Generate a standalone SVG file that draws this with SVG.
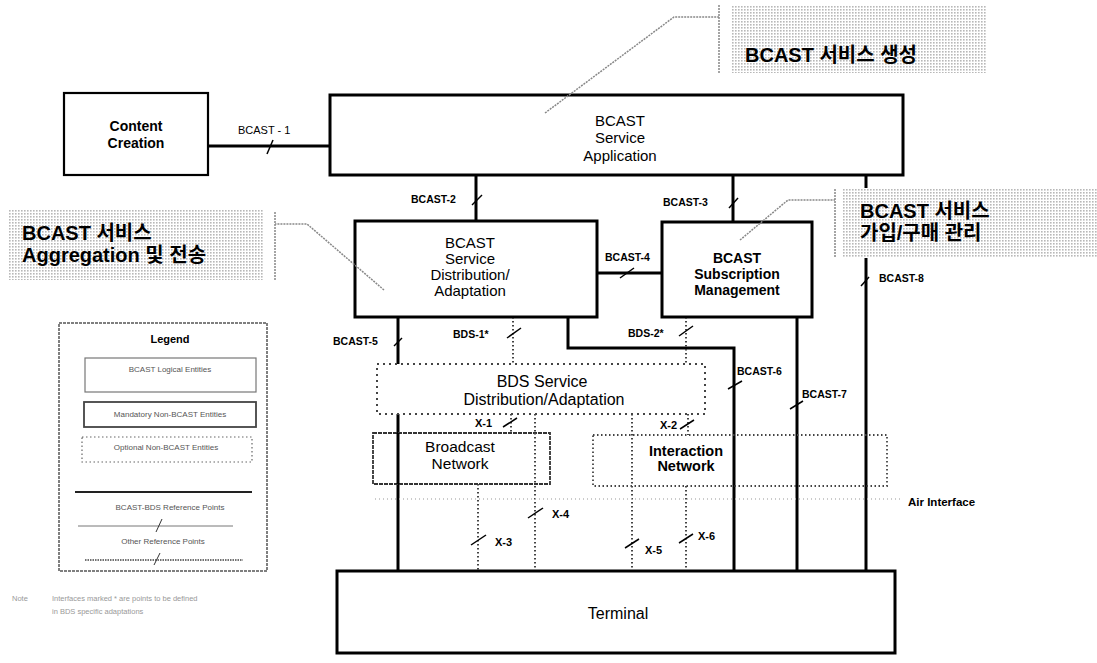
<svg xmlns="http://www.w3.org/2000/svg" width="1097" height="663" viewBox="0 0 1097 663">
<defs>
<pattern id="dots" width="3" height="3" patternUnits="userSpaceOnUse"><rect width="3" height="3" fill="#fff"/><rect width="1.6" height="1.6" fill="#b8b8b8"/></pattern>
<style>
text{font-family:"Liberation Sans",Arial,"Noto Sans CJK KR",sans-serif;fill:#000}
.box{fill:#fff;stroke:#000;stroke-width:3}
.thin{fill:#fff;stroke:#000;stroke-width:2.2}
.ln{fill:none;stroke:#000;stroke-width:3}
.dot{fill:none;stroke:#444;stroke-width:2;stroke-dasharray:1.5 2.5}
.dbox{fill:#fff;stroke:#444;stroke-width:2;stroke-dasharray:2 4}
.tick{stroke:#000;stroke-width:1.5}
.lead{fill:none;stroke:#888;stroke-width:1.5;stroke-dasharray:2 1}
.lbl{font-size:10.5px;font-weight:bold}
.xl{font-size:11px;font-weight:bold}
.nd{font-size:15px;text-anchor:middle}
.ndb{font-size:14px;font-weight:bold;text-anchor:middle}
.co{font-size:20px;font-weight:bold;font-family:"Liberation Sans","Noto Sans CJK KR",sans-serif}
.lg{font-size:8px;fill:#555;text-anchor:middle}
.note{font-size:7.5px;fill:#999}
</style>
</defs>
<rect width="1097" height="663" fill="#fff"/>

<g id="connectors">
<line class="ln" x1="208" y1="146" x2="330" y2="146"/>
<line class="ln" x1="476" y1="175" x2="476" y2="222"/>
<line class="ln" x1="733" y1="175" x2="733" y2="222"/>
<line class="ln" x1="597" y1="273" x2="662" y2="273"/>
<line class="ln" x1="866" y1="175" x2="866" y2="571"/>
<line class="ln" x1="398" y1="317" x2="398" y2="571"/>
<polyline class="ln" points="568,317 568,348 734,348 734,571"/>
<line class="ln" x1="797" y1="317" x2="797" y2="571"/>
<line class="dot" x1="513" y1="317" x2="513" y2="364"/>
<line class="dot" x1="686" y1="317" x2="686" y2="364"/>
<line class="dot" x1="511" y1="414" x2="511" y2="434"/>
<line class="dot" x1="688" y1="414" x2="688" y2="435"/>
<line class="dot" x1="535" y1="414" x2="535" y2="571"/>
<line class="dot" x1="478" y1="484" x2="478" y2="571"/>
<line class="dot" x1="632" y1="414" x2="632" y2="571"/>
<line class="dot" x1="686" y1="486" x2="686" y2="571"/>
<line x1="375" y1="499" x2="900" y2="499" stroke="#bbb" stroke-width="1.5" stroke-dasharray="1 3"/>
<line class="tick" x1="267" y1="154" x2="273" y2="140"/>
<line class="tick" x1="472" y1="205" x2="482" y2="195"/>
<line class="tick" x1="729" y1="208" x2="738" y2="198"/>
<line class="tick" x1="620" y1="278" x2="634" y2="268"/>
<line class="tick" x1="394" y1="346" x2="402" y2="338"/>
<line class="tick" x1="507" y1="338" x2="521" y2="328"/>
<line class="tick" x1="679" y1="336" x2="693" y2="326"/>
<line class="tick" x1="728" y1="389" x2="742" y2="381"/>
<line class="tick" x1="790" y1="409" x2="803" y2="401"/>
<line class="tick" x1="861" y1="286" x2="869" y2="277"/>
<line class="tick" x1="503" y1="427" x2="517" y2="418"/>
<line class="tick" x1="680" y1="429" x2="694" y2="420"/>
<line class="tick" x1="471" y1="545" x2="486" y2="535"/>
<line class="tick" x1="528" y1="518" x2="543" y2="508"/>
<line class="tick" x1="625" y1="548" x2="639" y2="539"/>
<line class="tick" x1="679" y1="543" x2="693" y2="534"/>
<text x="238" y="134" style="font-size:11px">BCAST - 1</text>
<text class="lbl" x="411" y="203">BCAST-2</text>
<text class="lbl" x="663" y="206">BCAST-3</text>
<text class="lbl" x="605" y="261">BCAST-4</text>
<text class="lbl" x="333" y="345">BCAST-5</text>
<text class="lbl" x="453" y="338">BDS-1*</text>
<text class="lbl" x="628" y="337">BDS-2*</text>
<text class="lbl" x="737" y="375">BCAST-6</text>
<text class="lbl" x="802" y="398">BCAST-7</text>
<text class="lbl" x="879" y="282">BCAST-8</text>
<text class="xl" x="475" y="427">X-1</text>
<text class="xl" x="660" y="429">X-2</text>
<text class="xl" x="495" y="546">X-3</text>
<text class="xl" x="552" y="518">X-4</text>
<text class="xl" x="645" y="554">X-5</text>
<text class="xl" x="698" y="540">X-6</text>
<text x="908" y="506" style="font-size:11.5px;font-weight:bold">Air Interface</text>
</g>

<g id="content-creation">
<rect class="thin" x="64" y="93" width="144" height="82"/>
<text class="ndb" x="136" y="131">Content</text>
<text class="ndb" x="136" y="148">Creation</text>
</g>

<g id="service-application">
<rect class="box" x="330" y="95" width="573" height="80"/>
<text class="nd" x="620" y="126">BCAST</text>
<text class="nd" x="620" y="143">Service</text>
<text class="nd" x="620" y="161">Application</text>
</g>

<g id="service-distribution">
<rect class="box" x="355" y="221" width="242" height="96"/>
<text class="nd" x="470" y="248">BCAST</text>
<text class="nd" x="470" y="264">Service</text>
<text class="nd" x="470" y="280">Distribution/</text>
<text class="nd" x="470" y="296">Adaptation</text>
</g>

<g id="subscription-management">
<rect class="box" x="662" y="222" width="150" height="95"/>
<text class="ndb" x="737" y="263">BCAST</text>
<text class="ndb" x="737" y="279">Subscription</text>
<text class="ndb" x="737" y="295">Management</text>
</g>

<g id="bds-service">
<rect class="dbox" x="377" y="364" width="328" height="50"/>
<text x="542" y="387" style="font-size:16px;text-anchor:middle">BDS Service</text>
<text x="544" y="405" style="font-size:16px;text-anchor:middle">Distribution/Adaptation</text>
</g>

<g id="broadcast-network">
<rect x="373" y="433" width="177" height="51" fill="#fff" stroke="#333" stroke-width="1.8" stroke-dasharray="4 1"/>
<line class="ln" x1="398" y1="433" x2="398" y2="484"/>
<line class="dot" x1="535" y1="433" x2="535" y2="484"/>
<text x="460" y="452" style="font-size:15.5px;text-anchor:middle">Broadcast</text>
<text x="460" y="469" style="font-size:15.5px;text-anchor:middle">Network</text>
</g>

<g id="interaction-network">
<rect x="593" y="435" width="294" height="51" fill="none" stroke="#444" stroke-width="1.8" stroke-dasharray="1.5 2.5"/>
<text x="686" y="456" style="font-size:14.5px;font-weight:bold;text-anchor:middle">Interaction</text>
<text x="686" y="471" style="font-size:14.5px;font-weight:bold;text-anchor:middle">Network</text>
</g>

<g id="terminal">
<rect class="box" x="337" y="571" width="558" height="82"/>
<text x="618" y="619" style="font-size:16px;text-anchor:middle">Terminal</text>
</g>

<g id="callout-creation">
<rect x="731" y="5" width="256" height="68" fill="url(#dots)"/>
<polyline class="lead" points="545,113 674,17 719,17"/>
<line class="lead" x1="719" y1="5" x2="719" y2="73"/>
<text class="co" x="745" y="62">BCAST 서비스 생성</text>
</g>

<g id="callout-subscription">
<rect x="843" y="188" width="254" height="70" fill="url(#dots)"/>
<polyline class="lead" points="740,240 788,200 835,200"/>
<line class="lead" x1="835" y1="189" x2="835" y2="258"/>
<text class="co" x="860" y="218">BCAST 서비스</text>
<text class="co" x="860" y="240">가입/구매 관리</text>
</g>

<g id="callout-aggregation">
<rect x="8" y="210" width="255" height="70" fill="url(#dots)"/>
<polyline class="lead" points="384,290 307,224 275,224"/>
<line class="lead" x1="275" y1="212" x2="275" y2="280"/>
<text class="co" x="22" y="240">BCAST 서비스</text>
<text class="co" x="22" y="262">Aggregation 및 전송</text>
</g>

<g id="legend">
<rect x="59" y="323" width="208" height="248" fill="#fff" stroke="#555" stroke-width="1.5" stroke-dasharray="3 1"/>
<text x="170" y="343" style="font-size:11px;font-weight:bold;text-anchor:middle">Legend</text>
<rect x="85" y="358" width="171" height="34" fill="none" stroke="#777" stroke-width="1.2"/>
<text class="lg" x="170" y="372">BCAST Logical Entities</text>
<rect x="84" y="402" width="172" height="25" fill="none" stroke="#444" stroke-width="1.8"/>
<text class="lg" x="170" y="417">Mandatory Non-BCAST Entities</text>
<rect x="82" y="437" width="170" height="25" fill="none" stroke="#666" stroke-width="1.2" stroke-dasharray="1.5 2.5"/>
<text class="lg" x="166" y="450">Optional Non-BCAST Entities</text>
<line x1="75" y1="492" x2="252" y2="492" stroke="#222" stroke-width="2"/>
<text class="lg" x="170" y="510">BCAST-BDS Reference Points</text>
<line x1="78" y1="526" x2="233" y2="526" stroke="#777" stroke-width="1"/>
<line x1="156" y1="532" x2="162" y2="519" stroke="#333" stroke-width="1"/>
<text class="lg" x="163" y="544">Other Reference Points</text>
<line x1="85" y1="560" x2="243" y2="560" stroke="#444" stroke-width="1.5" stroke-dasharray="1.5 1"/>
<line x1="154" y1="565" x2="160" y2="553" stroke="#333" stroke-width="1"/>
</g>

<g id="note">
<text class="note" x="12" y="601">Note</text>
<text class="note" x="52" y="601">Interfaces marked * are points to be defined</text>
<text class="note" x="52" y="614">in BDS specific adaptations</text>
</g>
</svg>
